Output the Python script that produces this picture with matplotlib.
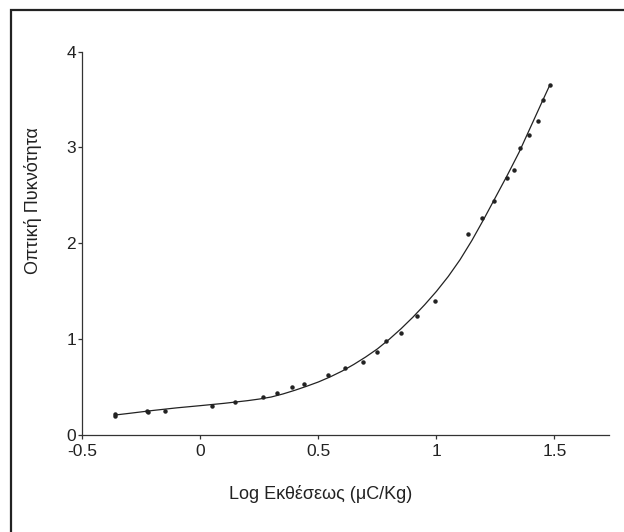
import matplotlib
matplotlib.use('Agg')
import matplotlib.pyplot as plt
from matplotlib.patches import Rectangle

plt.rcParams['font.family'] = ['Liberation Sans', 'DejaVu Sans']

# measured points (log exposure, optical density)
log_exp = [-0.361, -0.361, -0.228, -0.223, -0.150, 0.051, 0.145, 0.266, 0.325,
           0.388, 0.440, 0.540, 0.614, 0.690, 0.749, 0.788, 0.850, 0.917,
           0.992, 1.135, 1.191, 1.245, 1.297, 1.327, 1.354, 1.393, 1.430,
           1.450, 1.481]
density = [0.223, 0.198, 0.251, 0.240, 0.251, 0.300, 0.347, 0.393, 0.442,
           0.506, 0.530, 0.630, 0.700, 0.760, 0.870, 0.983, 1.065, 1.238,
           1.397, 2.097, 2.263, 2.447, 2.677, 2.762, 2.996, 3.133, 3.275,
           3.498, 3.650]

# fitted characteristic curve
curve_x = [-0.355, -0.3, -0.2, -0.1, 0.0, 0.1, 0.2, 0.25, 0.3, 0.35, 0.4,
           0.45, 0.5, 0.55, 0.6, 0.65, 0.7, 0.75, 0.8, 0.85, 0.9, 0.95, 1.0,
           1.05, 1.1, 1.15, 1.2, 1.25, 1.3, 1.35, 1.4, 1.45, 1.48]
curve_y = [0.212, 0.228, 0.258, 0.285, 0.308, 0.332, 0.360, 0.377, 0.398,
           0.430, 0.468, 0.510, 0.555, 0.608, 0.668, 0.738, 0.815, 0.900,
           1.000, 1.110, 1.230, 1.360, 1.500, 1.655, 1.830, 2.030, 2.250,
           2.480, 2.710, 2.950, 3.220, 3.490, 3.650]

x_ticks = [-0.5, 0, 0.5, 1, 1.5]
x_ticklabels = ['-0.5', '0', '0.5', '1', '1.5']
y_ticks = [0, 1, 2, 3, 4]

fig = plt.figure(figsize=(6.24, 5.32), dpi=100)
ax = fig.add_axes([0.132, 0.182, 0.8436, 0.721])

ax.plot(curve_x, curve_y, '-', color='#222222', linewidth=0.9)
ax.plot(log_exp, density, 'o', color='#222222', markersize=2.2, linestyle='none')

ax.set_xlim(-0.5, 1.73)
ax.set_ylim(0, 4)
ax.set_xticks(x_ticks)
ax.set_xticklabels(x_ticklabels)
ax.set_yticks(y_ticks)

for side in ('top', 'right'):
    ax.spines[side].set_visible(False)
for side in ('left', 'bottom'):
    ax.spines[side].set_color('#333333')
    ax.spines[side].set_linewidth(0.9)

ax.tick_params(axis='both', direction='out', length=3, width=0.9,
               color='#333333', labelsize=12.5, labelcolor='#222222')
ax.tick_params(axis='y', pad=1.5)
ax.tick_params(axis='x', pad=3)

ax.set_xlabel('Log Εκθέσεως (μC/Kg)', fontsize=13, color='#222222')
ax.set_ylabel('Οπτική Πυκνότητα', fontsize=13, color='#222222')
ax.xaxis.set_label_coords(0.453, -0.13)
ax.yaxis.set_label_coords(-0.077, 0.611)

# outer frame: only top and left edges fall inside the picture
fig.patches.append(Rectangle((0.0184, -0.1), 1.2, 1.081, transform=fig.transFigure,
                             fill=False, edgecolor='#222222', linewidth=1.6))

fig.savefig('out.png', dpi=100)
